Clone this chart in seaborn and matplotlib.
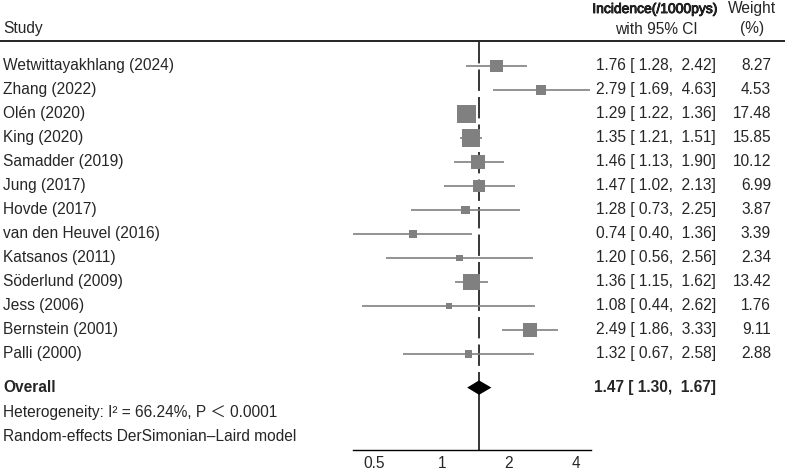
import matplotlib
matplotlib.use("Agg")
import matplotlib.pyplot as plt
import matplotlib.patheffects as pe
from matplotlib.lines import Line2D
import numpy as np
import seaborn as sns

studies = ["Wetwittayakhlang (2024)", "Zhang (2022)", "Olén (2020)", "King (2020)",
           "Samadder (2019)", "Jung (2017)", "Hovde (2017)", "van den Heuvel (2016)",
           "Katsanos (2011)", "Söderlund (2009)", "Jess (2006)", "Bernstein (2001)",
           "Palli (2000)"]
est = [1.76, 2.79, 1.29, 1.35, 1.46, 1.47, 1.28, 0.74, 1.20, 1.36, 1.08, 2.49, 1.32]
lo = [1.28, 1.69, 1.22, 1.21, 1.13, 1.02, 0.73, 0.40, 0.56, 1.15, 0.44, 1.86, 0.67]
hi = [2.42, 4.63, 1.36, 1.51, 1.90, 2.13, 2.25, 1.36, 2.56, 1.62, 2.62, 3.33, 2.58]
weights = [8.27, 4.53, 17.48, 15.85, 10.12, 6.99, 3.87, 3.39, 2.34, 13.42, 1.76, 9.11, 2.88]
overall_est, overall_lo, overall_hi = 1.47, 1.30, 1.67
heterogeneity = "Heterogeneity: I² = 66.24%, P \uff1c 0.0001"
model_note = "Random-effects DerSimonian\u2013Laird model"
xticks = [0.5, 1, 2, 4]

sns.set_style("white")
plt.rcParams["font.family"] = ["Liberation Sans", "Noto Sans CJK SC", "DejaVu Sans"]
FS = 11.2
W, H = 785, 470
GRAY = "#808080"

fig = plt.figure(figsize=(W / 100, H / 100), dpi=100)
ax = fig.add_axes([353 / W, (H - 450) / H, 238 / W, (450 - 41) / H])

rows = np.arange(len(studies))
overall_row = 13.4

# confidence intervals and weighted squares
ax.hlines(rows, lo, hi, color=GRAY, lw=1.2, zorder=2)
smin, smax = min(weights), max(weights)
sns.scatterplot(x=est, y=rows, size=weights, sizes=(10 * smin, 10 * smax),
                size_norm=(smin, smax), marker="s", color=GRAY, linewidth=0,
                legend=False, ax=ax, zorder=3)

# overall diamond
dh = 0.3
ax.fill([overall_lo, overall_est, overall_hi, overall_est],
        [overall_row, overall_row - dh, overall_row, overall_row + dh],
        color="black", zorder=4, lw=0)

# overall line: dashed above the diamond, solid below
ax.plot([overall_est, overall_est], [-1.0, overall_row], color="black", lw=1.1,
        dashes=(14, 4), zorder=1)
ax.plot([overall_est, overall_est], [overall_row, 16.0], color="black", lw=1.1, zorder=1)

ax.set_xscale("log")
ax.set_xlim(0.40, 4.67)
ax.set_ylim(16.0, -1.04)
ax.set_xticks(xticks)
ax.set_xticklabels([f"{t:g}" for t in xticks], fontsize=FS)
ax.xaxis.set_minor_locator(matplotlib.ticker.NullLocator())
ax.set_yticks([])
for side in ["top", "left", "right"]:
    ax.spines[side].set_visible(False)
ax.spines["bottom"].set_color("black")
ax.spines["bottom"].set_linewidth(1.0)
ax.tick_params(axis="x", direction="out", length=4, width=1, color="black", pad=0.5)


def fx(px):
    return px / W


def fy(py):
    return 1 - py / H


tr = matplotlib.transforms.blended_transform_factory(fig.transFigure, ax.transData)

# header
fig.text(fx(3), fy(28), "Study", fontsize=FS, ha="left", va="center")
fig.text(fx(655), fy(9), "Incidence(/1000pys)", fontsize=10, ha="center", va="center",
         path_effects=[pe.withStroke(linewidth=0.6, foreground="black")])
fig.text(fx(656), fy(29), "with 95% CI", fontsize=FS, ha="center", va="center")
fig.text(fx(752), fy(9), "Weight", fontsize=FS, ha="center", va="center")
fig.text(fx(752), fy(29), "(%)", fontsize=FS, ha="center", va="center")
fig.add_artist(Line2D([0, 1], [fy(41), fy(41)], color="black", lw=1.2,
                      transform=fig.transFigure))

# study rows
for i, name in enumerate(studies):
    ax.text(fx(3), i, name, transform=tr, fontsize=FS, ha="left", va="center")
    ax.text(fx(716), i, f"{est[i]:.2f} [{lo[i]:5.2f}, {hi[i]:5.2f}]", transform=tr,
            fontsize=FS, ha="right", va="center")
    ax.text(fx(771), i, f"{weights[i]:.2f}", transform=tr, fontsize=FS,
            ha="right", va="center")

ax.text(fx(3), overall_row, "Overall", transform=tr, fontsize=FS, ha="left",
        va="center", fontweight="bold")
ax.text(fx(716), overall_row,
        f"{overall_est:.2f} [{overall_lo:5.2f}, {overall_hi:5.2f}]",
        transform=tr, fontsize=FS, ha="right", va="center", fontweight="bold")
ax.text(fx(3), 14.42, heterogeneity, transform=tr, fontsize=FS, ha="left", va="center")
ax.text(fx(3), 15.42, model_note, transform=tr, fontsize=FS, ha="left", va="center")

fig.savefig("out.png", dpi=100)
